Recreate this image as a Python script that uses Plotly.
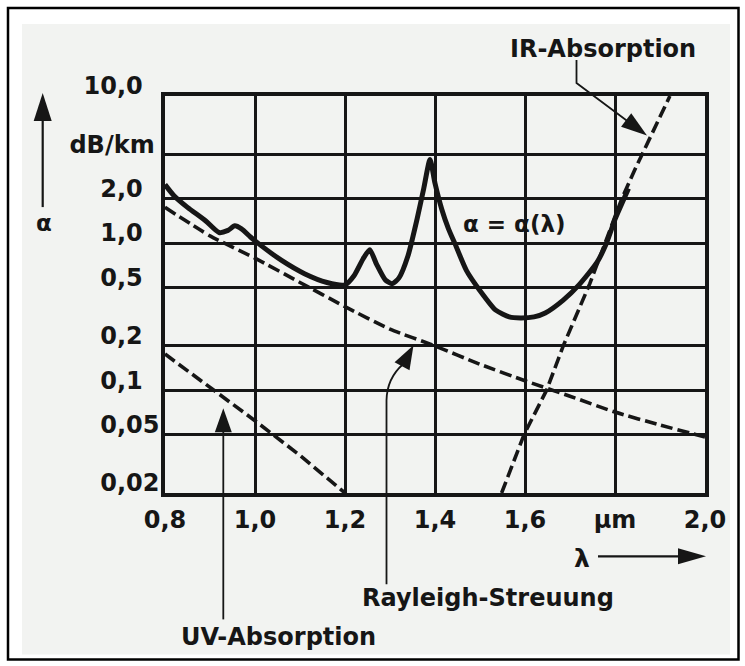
import math
import plotly.graph_objects as go

# ---- data: attenuation of a silica fibre vs. wavelength ----
lam_total = [0.80, 0.82, 0.85, 0.89, 0.92, 0.94, 0.955, 0.97, 0.99, 1.01, 1.06, 1.11,
             1.16, 1.20, 1.22, 1.24, 1.255, 1.27, 1.29, 1.305, 1.32, 1.34, 1.36, 1.375,
             1.389, 1.40, 1.415, 1.43, 1.445, 1.47, 1.50, 1.535, 1.565, 1.59, 1.62,
             1.645, 1.685, 1.72, 1.76, 1.78, 1.80, 1.815, 1.83]
alpha_total = [2.5, 2.1, 1.75, 1.42, 1.18, 1.22, 1.31, 1.25, 1.10, 0.98, 0.76, 0.62,
               0.54, 0.52, 0.60, 0.78, 0.90, 0.72, 0.56, 0.53, 0.58, 0.82, 1.45, 2.35,
               3.7, 2.55, 1.7, 1.25, 0.98, 0.65, 0.475, 0.35, 0.315, 0.31, 0.315,
               0.335, 0.41, 0.52, 0.74, 0.98, 1.45, 1.85, 2.35]

lam_rayleigh = [0.8, 0.9, 1.0, 1.1, 1.2, 1.3, 1.4, 1.5, 1.6, 1.7, 1.8, 1.9, 2.0]
alpha_rayleigh = [1.75, 1.12, 0.79, 0.54, 0.37, 0.26, 0.20, 0.15, 0.116, 0.091, 0.071, 0.058, 0.048]

lam_uv = [0.8, 0.9, 1.0, 1.1, 1.2]
alpha_uv = [0.176, 0.105, 0.062, 0.036, 0.02]

lam_ir = [1.548, 1.598, 1.648, 1.685, 1.744, 1.778, 1.815, 1.844, 1.878, 1.922]
alpha_ir = [0.02, 0.05, 0.1, 0.2, 0.53, 1.0, 2.0, 3.15, 5.2, 10.0]

x_ticks = [0.8, 1.0, 1.2, 1.4, 1.6, 1.8, 2.0]
x_labels = ["0,8", "1,0", "1,2", "1,4", "1,6", "\u03bcm", "2,0"]
y_ticks = [0.02, 0.05, 0.1, 0.2, 0.5, 1.0, 2.0, 4.0, 10.0]
y_labels = ["0,02", "0,05", "0,1\u2007", "0,2\u2007", "0,5\u2007", "1,0\u2007",
            "2,0\u2007", "dB/km\u2009", "10,0\u2007"]

# ---- page geometry (pixels) ----
W, H = 745, 666
L, R, T, B = 165, 705, 96, 492.7
INK = "#161616"
FONT = "DejaVu Sans"


def fx(x):
    return (x - L) / (R - L)


def fy(y):
    return (B - y) / (B - T)


def seg_path(points):
    return "M " + " L ".join(f"{fx(x):.5f},{fy(y):.5f}" for x, y in points)


def head(tip, tail, length, half, color=INK):
    dx, dy = tip[0] - tail[0], tip[1] - tail[1]
    n = math.hypot(dx, dy)
    ux, uy = dx / n, dy / n
    bx, by = tip[0] - ux * length, tip[1] - uy * length
    p1 = (bx - uy * half, by + ux * half)
    p2 = (bx + uy * half, by - ux * half)
    path = seg_path([tip, p1, p2]) + " Z"
    return dict(type="path", xref="paper", yref="paper", path=path,
                fillcolor=color, line=dict(width=0), layer="above")


def line_shape(path, width=1.8, color=INK):
    return dict(type="path", xref="paper", yref="paper", path=path,
                line=dict(color=color, width=width), fillcolor="rgba(0,0,0,0)",
                layer="above")


fig = go.Figure()

dash = "12px,5px"
fig.add_trace(go.Scatter(x=lam_uv, y=alpha_uv, mode="lines",
                         line=dict(color=INK, width=3.6, dash=dash), name="UV-Absorption"))
fig.add_trace(go.Scatter(x=lam_rayleigh, y=alpha_rayleigh, mode="lines",
                         line=dict(color=INK, width=3.6, dash=dash, shape="spline", smoothing=0.6),
                         name="Rayleigh-Streuung"))
fig.add_trace(go.Scatter(x=lam_ir, y=alpha_ir, mode="lines",
                         line=dict(color=INK, width=3.6, dash=dash), name="IR-Absorption"))
fig.add_trace(go.Scatter(x=lam_total, y=alpha_total, mode="lines",
                         line=dict(color=INK, width=5, shape="spline", smoothing=0.6),
                         name="\u03b1 = \u03b1(\u03bb)"))

shapes = []
# outer frame and light panel
shapes.append(dict(type="rect", xref="paper", yref="paper",
                   x0=fx(22), x1=fx(730), y0=fy(654), y1=fy(24),
                   fillcolor="#f2f3f1", line=dict(width=0), layer="below"))
shapes.append(dict(type="rect", xref="paper", yref="paper",
                   x0=fx(8), x1=fx(738.5), y0=fy(659), y1=fy(8),
                   fillcolor="rgba(0,0,0,0)", line=dict(color="#000", width=2.5), layer="above"))

# axis arrows
shapes.append(line_shape(seg_path([(42.7, 207), (42.7, 118)]), width=2.2))
shapes.append(head((42.7, 93), (42.7, 207), 28, 9))
shapes.append(line_shape(seg_path([(598, 556), (682, 556)]), width=2.2))
shapes.append(head((706, 556), (598, 556), 28, 8))

# UV leader
shapes.append(line_shape(seg_path([(223.3, 619), (223.3, 428)])))
shapes.append(head((223.3, 408), (223.3, 619), 24, 8.5))

# Rayleigh leader
ray_path = (f"M {fx(386.5):.5f},{fy(584):.5f} L {fx(386.5):.5f},{fy(400):.5f} "
            f"Q {fx(387):.5f},{fy(378):.5f} {fx(403):.5f},{fy(364):.5f}")
shapes.append(line_shape(ray_path))
shapes.append(head((413.5, 345), (401, 368), 24, 8.5))

# IR leader
shapes.append(line_shape(seg_path([(576.5, 60), (576.5, 83), (630, 123)])))
shapes.append(head((647, 135.5), (576.5, 83), 26, 8.5))

ann_font = dict(family=FONT, size=24, color=INK, weight="bold")
annotations = [
    dict(text="IR-Absorption", x=fx(603), y=fy(49)),
    dict(text="Rayleigh-Streuung", x=fx(488), y=fy(598)),
    dict(text="UV-Absorption", x=fx(278), y=fy(637)),
    dict(text="\u03b1 = \u03b1(\u03bb)", x=fx(514), y=fy(224),
         font=dict(family=FONT, size=23, color=INK, weight="bold")),
    dict(text="\u03b1", x=fx(44), y=fy(223), font=dict(family=FONT, size=23, color=INK, weight="bold")),
    dict(text="\u03bb", x=fx(582), y=fy(558), font=dict(family=FONT, size=25, color=INK, weight="bold")),
]
for a in annotations:
    a.setdefault("font", ann_font)
    a.update(xref="paper", yref="paper", showarrow=False, xanchor="center", yanchor="middle")

tick_font = dict(family=FONT, size=24, color=INK, weight="bold")

fig.update_layout(
    width=W, height=H,
    margin=dict(l=L, r=W - R, t=T, b=H - B, pad=0),
    paper_bgcolor="white",
    plot_bgcolor="rgba(0,0,0,0)",
    showlegend=False,
    shapes=shapes,
    annotations=annotations,
    font=dict(family=FONT, color=INK),
    xaxis=dict(range=[0.8, 2.0], tickvals=x_ticks, ticktext=x_labels,
               showgrid=True, gridcolor=INK, gridwidth=2.5,
               showline=True, linecolor=INK, linewidth=3.5, mirror=True,
               ticks="", zeroline=False, ticklabelstandoff=2, tickfont=tick_font),
    yaxis=dict(type="log", range=[math.log10(0.02), 1.0], tickvals=y_ticks, ticktext=y_labels,
               showgrid=True, gridcolor=INK, gridwidth=2.5,
               showline=True, linecolor=INK, linewidth=3.5, mirror=True,
               ticks="", zeroline=False, ticklabelshift=-10, ticklabelstandoff=-3,
               tickfont=tick_font),
)

fig.write_html("out.html")
